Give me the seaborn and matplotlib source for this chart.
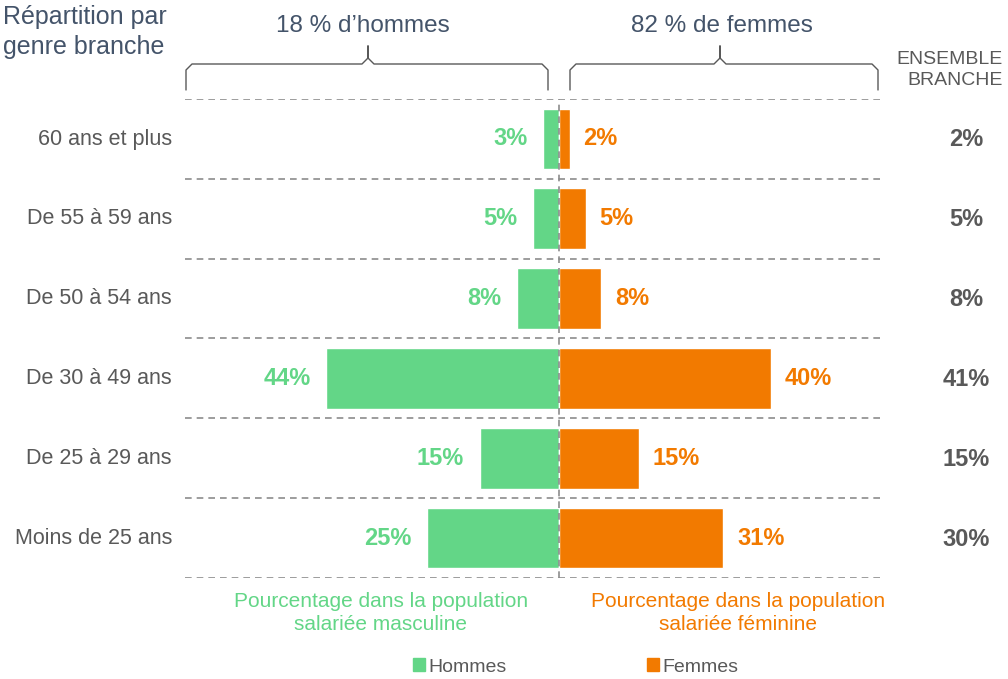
import matplotlib
matplotlib.use("Agg")
import matplotlib.pyplot as plt
from matplotlib.lines import Line2D
from matplotlib.patches import Patch
import numpy as np
import pandas as pd
import seaborn as sns

# --- data ---
categories = ["60 ans et plus", "De 55 à 59 ans", "De 50 à 54 ans",
              "De 30 à 49 ans", "De 25 à 29 ans", "Moins de 25 ans"]
hommes = [3, 5, 8, 44, 15, 25]
femmes = [2, 5, 8, 40, 15, 31]
ensemble = [2, 5, 8, 41, 15, 30]

green = "#63D687"
orange = "#F27A00"
grey_txt = "#595959"
blue_txt = "#44546A"

sns.set_theme(style="white")
plt.rcParams["font.family"] = ["Liberation Sans", "DejaVu Sans"]

df = pd.DataFrame({"cat": categories, "h": [-v for v in hommes], "f": femmes})

fig = plt.figure(figsize=(10.08, 6.79), dpi=100)
W, H = 1008, 679
# axes from x=185..880 px, y=99..578 px
ax = fig.add_axes([185 / W, 1 - 578 / H, (880 - 185) / W, (578 - 99) / H])

sns.barplot(data=df, x="h", y="cat", color=green, width=0.76, ax=ax,
            orient="h", saturation=1)
sns.barplot(data=df, x="f", y="cat", color=orange, width=0.76, ax=ax,
            orient="h", saturation=1)

px = 5.3  # pixels per percent
ax.set_xlim((185 - 559) / px, (880 - 559) / px)
ax.set_ylim(len(categories) - 0.5, -0.5)
for s in ax.spines.values():
    s.set_visible(False)
ax.set_xticks([])
ax.set_yticks([])
ax.set_xlabel("")
ax.set_ylabel("")

# dashed separators
for i in range(len(categories) + 1):
    ax.axhline(i - 0.5, color="#8C8C8C", lw=1.2, ls=(0, (4, 3)), zorder=0)
ax.axvline(0, color="#8C8C8C", lw=1.2, ls=(0, (4, 3)), zorder=5)

for i, cat in enumerate(categories):
    ax.annotate(f"{hommes[i]}%", (-hommes[i], i), xytext=(-11, 0),
                textcoords="offset points", ha="right", va="center",
                color=green, fontsize=17, fontweight="bold")
    ax.annotate(f"{femmes[i]}%", (femmes[i], i), xytext=(10, 0),
                textcoords="offset points", ha="left", va="center",
                color=orange, fontsize=17, fontweight="bold")
    fig.text(172 / W, 1 - (139 + 80 * i) / H, cat, ha="right", va="center",
             color=grey_txt, fontsize=15.5)
    fig.text(966 / W, 1 - (139 + 80 * i) / H, f"{ensemble[i]}%", ha="center",
             va="center", color=grey_txt, fontsize=17, fontweight="bold")

# header texts
fig.text(3 / W, 1 - 5 / H, "Répartition par\ngenre branche", ha="left",
         va="top", color=blue_txt, fontsize=18, linespacing=1.32)
fig.text(363 / W, 1 - 26 / H, "18 % d’hommes", ha="center", va="center",
         color=blue_txt, fontsize=17.5)
fig.text(722 / W, 1 - 26 / H, "82 % de femmes", ha="center", va="center",
         color=blue_txt, fontsize=17.5)
fig.text(1003 / W, 1 - 70 / H, "ENSEMBLE\nBRANCHE", ha="right", va="center",
         color=grey_txt, fontsize=14, linespacing=1.25)


def brace(x0, x1, xm, ytop, ybot, ytip):
    c = "#595959"
    r = 6
    pts_x = [x0, x0, x0 + r, xm - r, xm, xm, xm, xm + r, x1 - r, x1, x1]
    pts_y = [ybot, ytop + r, ytop, ytop, ytop - r, ytip, ytop - r, ytop,
             ytop, ytop + r, ybot]
    fig.add_artist(Line2D([x / W for x in pts_x], [1 - y / H for y in pts_y],
                          color=c, lw=1.0))


brace(186, 548, 368, 64, 90, 46)
brace(570, 878, 720, 64, 90, 46)

# bottom texts
fig.text(381 / W, 1 - 613 / H, "Pourcentage dans la population\nsalariée masculine",
         ha="center", va="center", color=green, fontsize=15, linespacing=1.25)
fig.text(738 / W, 1 - 613 / H, "Pourcentage dans la population\nsalariée féminine",
         ha="center", va="center", color=orange, fontsize=15, linespacing=1.25)

handles = [Patch(color=green, label="Hommes"), Patch(color=orange, label="Femmes")]
fig.legend(handles=handles, loc="center", bbox_to_anchor=(576 / W, 1 - 667 / H),
           ncol=2, frameon=False, fontsize=14, handlelength=0.6,
           handleheight=0.6, handletextpad=0.2, columnspacing=7.2,
           labelcolor=grey_txt)

fig.savefig("out.png", dpi=100)
